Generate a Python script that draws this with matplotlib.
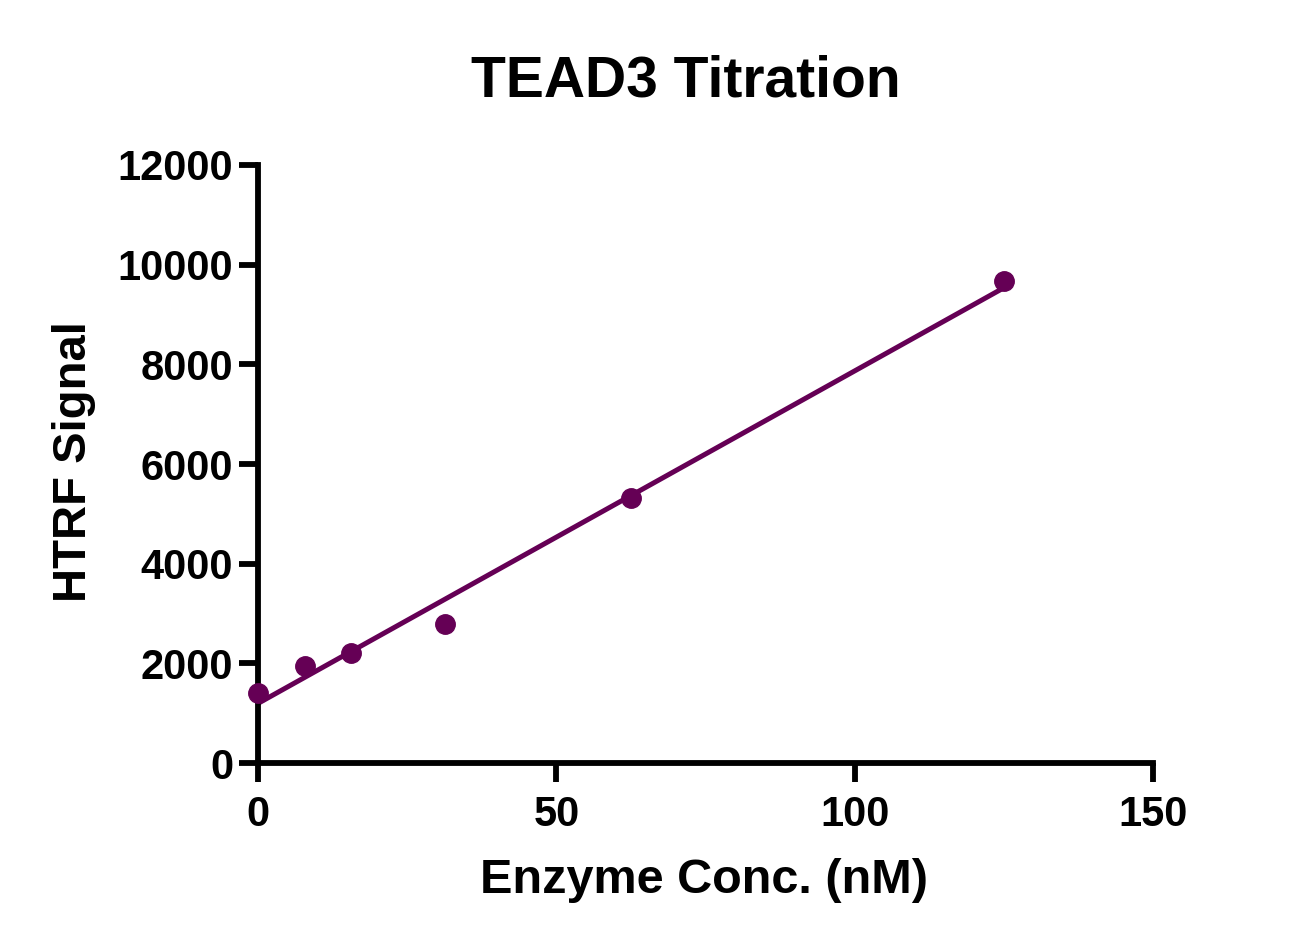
import numpy as np
import matplotlib
matplotlib.use("Agg")
import matplotlib.pyplot as plt

plt.rcParams["font.family"] = ["Liberation Sans", "DejaVu Sans"]
plt.rcParams["font.weight"] = "bold"

# Data
conc_nM = [0, 7.8125, 15.625, 31.25, 62.5, 125]
htrf_signal = [1405, 1947, 2207, 2790, 5318, 9673]

x_ticks = [0, 50, 100, 150]
y_ticks = [0, 2000, 4000, 6000, 8000, 10000, 12000]

purple = "#650055"

fig = plt.figure(figsize=(12.89, 9.46), dpi=100)
ax = fig.add_axes([0.2002, 0.1934, 0.6943, 0.6322])

# linear regression line
slope, intercept = np.polyfit(conc_nM, htrf_signal, 1)
x_fit = np.array([min(conc_nM), max(conc_nM)])
ax.plot(x_fit, slope * x_fit + intercept, color=purple, lw=3.6,
        solid_capstyle="round", zorder=2)
ax.plot(conc_nM, htrf_signal, "o", color=purple, ms=14, mec=purple,
        zorder=3, clip_on=False)

ax.set_xlim(0, 150)
ax.set_ylim(0, 12000)
ax.set_xticks(x_ticks)
ax.set_yticks(y_ticks)

for side in ["top", "right"]:
    ax.spines[side].set_visible(False)
for side in ["left", "bottom"]:
    ax.spines[side].set_linewidth(4.2)
    ax.spines[side].set_capstyle("projecting")

ax.tick_params(axis="both", direction="out", length=14, width=4.2,
               labelsize=30, colors="black")
ax.tick_params(axis="x", pad=9)
ax.tick_params(axis="y", pad=4)
for lab in ax.get_xticklabels() + ax.get_yticklabels():
    lab.set_fontweight("bold")

fig.text(0.532, 0.898, "TEAD3 Titration", ha="center", va="baseline",
         fontsize=41, fontweight="bold")
fig.text(0.546, 0.056, "Enzyme Conc. (nM)", ha="center", va="baseline",
         fontsize=35, fontweight="bold")
fig.text(0.040, 0.512, "HTRF Signal", ha="left", va="center",
         rotation=90, fontsize=34, fontweight="bold")

fig.savefig("out.png", dpi=100, facecolor="white")
